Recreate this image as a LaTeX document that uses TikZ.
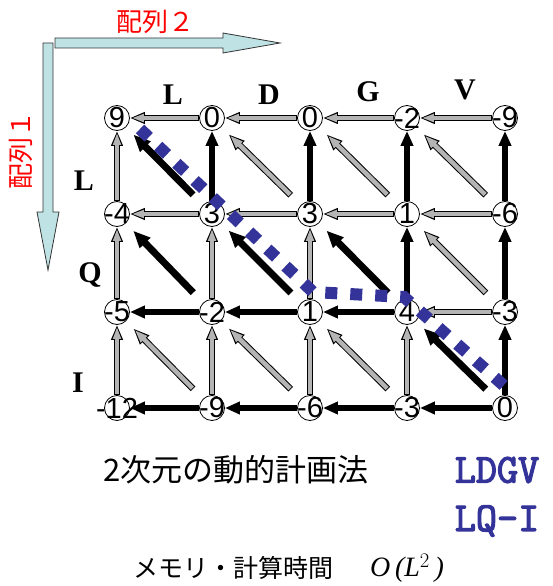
\documentclass[tikz,border=0pt]{standalone}
\usepackage{fontspec}
\setmainfont{Liberation Sans}
\newfontfamily\cjk{Noto Sans CJK JP}
\newfontfamily\serif{Liberation Serif}
\newfontfamily\cour{Latin Modern Mono}[FakeBold=3]
\usetikzlibrary{arrows.meta,backgrounds}
\definecolor{agray}{RGB}{180,180,180}
\definecolor{dblue}{RGB}{51,51,153}
\definecolor{lblue}{RGB}{191,226,229}
\tikzset{
  num/.style={circle, draw=black, fill=white, line width=0.8pt, minimum size=25pt, inner sep=0pt},
  numtext/.style={inner sep=0pt, font=\fontsize{29}{30}\selectfont},
  seq/.style={inner sep=0pt, font=\serif\bfseries\fontsize{30}{30}\selectfont},
  gout/.style={draw=black, line width=5.5pt, -{Triangle[length=15pt,width=11pt]}},
  gin/.style={draw=agray, line width=3.5pt, -{Triangle[length=12pt,width=7.5pt]}},
  bout/.style={draw=black, line width=5.5pt, -{Triangle[length=15pt,width=12pt]}},
  bdiag/.style={draw=black, line width=7pt, -{Triangle[length=17pt,width=14pt]}},
  gdout/.style={draw=black, line width=6.5pt, -{Triangle[length=16pt,width=12pt]}},
  gdin/.style={draw=agray, line width=4.5pt, -{Triangle[length=13pt,width=8.5pt]}},
  blockarrow/.style={fill=lblue, draw=black!80, line width=0.8pt},
  trace/.style={draw=dblue, line width=12pt, dash pattern=on 12pt off 13pt},
  jp/.style={inner sep=0pt, font=\cjk\fontsize{26}{28}\selectfont},
  seqtext/.style={inner sep=0pt, text=dblue, font=\cour\fontsize{41}{41}\selectfont},
}
% gray outlined arrow, straight
\newcommand\garr[2]{%
  \draw[gout] (#1) -- (#2);
  \draw[gin, shorten <=1pt, shorten >=2pt] (#1) -- (#2);}
% black arrow, straight
\newcommand\barr[2]{\draw[bout] (#1) -- (#2);}
% gray diagonal arrow
\newcommand\gdiag[2]{%
  \draw[gdout, shorten <=14pt, shorten >=10.5pt] (#1) -- (#2);
  \draw[gdin, shorten <=15pt, shorten >=12.5pt] (#1) -- (#2);}
% black diagonal arrow
\newcommand\bdiagarr[2]{\draw[bdiag, shorten <=14pt, shorten >=10.5pt] (#1) -- (#2);}
\begin{document}
\begin{tikzpicture}[x=1pt,y=-1pt]
\useasboundingbox (0,0) rectangle (553,586);

% axis block arrows
\path[blockarrow] (55,38) -- (223,38) -- (223,33) -- (280,43) -- (223,53) -- (223,48) -- (55,48) -- cycle;
\path[blockarrow] (43,43) -- (53,43) -- (53,212) -- (59,212) -- (48,270) -- (37,212) -- (43,212) -- cycle;
\node[jp, text=red] (arr2) at (155,22) {配列２};
\node[jp, text=red, rotate=90] (arr1) at (21,150) {配列１};

% grid nodes
\foreach \r/\y in {0/118,1/214,2/312,3/408}{
  \foreach \c/\x in {0/117,1/212,2/310,3/407,4/505}{
    \node[num] (n\r\c) at (\x,\y) {};
  }
}
\node[numtext] (t00) at (n00) {9};
\node[numtext] (t01) at (n01) {0};
\node[numtext] (t02) at (n02) {0};
\node[numtext] (t03) at (n03) {-2};
\node[numtext] (t04) at (n04) {-9};
\node[numtext] (t10) at (n10) {-4};
\node[numtext] (t11) at (n11) {3};
\node[numtext] (t12) at (n12) {3};
\node[numtext] (t13) at (n13) {1};
\node[numtext] (t14) at (n14) {-6};
\node[numtext] (t20) at (n20) {-5};
\node[numtext] (t21) at (n21) {-2};
\node[numtext] (t22) at (n22) {1};
\node[numtext] (t23) at (n23) {4};
\node[numtext] (t24) at (n24) {-3};
\node[numtext] (t30) at (n30) {-12};
\node[numtext] (t31) at (n31) {-9};
\node[numtext] (t32) at (n32) {-6};
\node[numtext] (t33) at (n33) {-3};
\node[numtext] (t34) at (n34) {0};

% sequence letters
\node[seq] (sL) at (173,95) {L};
\node[seq] (sD) at (269,95) {D};
\node[seq] (sG) at (368,92) {G};
\node[seq] (sV) at (465,90) {V};
\node[seq] (qL) at (84,181) {L};
\node[seq] (qQ) at (90,275) {Q};
\node[seq] (qI) at (78,383) {I};

\begin{pgfonlayer}{background}
% horizontal
\garr{n01}{n00} \garr{n02}{n01} \garr{n03}{n02} \garr{n04}{n03}
\garr{n11}{n10} \garr{n12}{n11} \garr{n13}{n12} \garr{n14}{n13}
\barr{n21}{n20} \barr{n22}{n21} \barr{n23}{n22} \garr{n24}{n23}
\barr{n31}{n30} \barr{n32}{n31} \barr{n33}{n32} \barr{n34}{n33}
% vertical
\garr{n10}{n00} \garr{n20}{n10} \garr{n30}{n20}
\barr{n11}{n01} \garr{n21}{n11} \garr{n31}{n21}
\barr{n12}{n02} \garr{n22}{n12} \garr{n32}{n22}
\barr{n13}{n03} \barr{n23}{n13} \garr{n33}{n23}
\barr{n14}{n04} \barr{n24}{n14} \barr{n34}{n24}
% diagonal
\bdiagarr{n11}{n00} \gdiag{n12}{n01} \gdiag{n13}{n02} \gdiag{n14}{n03}
\bdiagarr{n21}{n10} \bdiagarr{n22}{n11} \bdiagarr{n23}{n12} \gdiag{n24}{n13}
\gdiag{n31}{n20} \gdiag{n32}{n21} \gdiag{n33}{n22} \bdiagarr{n34}{n23}
\end{pgfonlayer}

% traceback path
\coordinate (p0) at (140,129);
\coordinate (p1) at (313,292);
\coordinate (p2) at (404,297);
\coordinate (p3) at (510,391);
\draw[trace] (p0) -- (p1) -- (p2) -- (p3);

% bottom texts
\node[jp, anchor=west, font=\cjk\fontsize{31}{32}\selectfont] (title) at (103,470) {2次元の動的計画法};
\node[seqtext] (s1) at (497,470) {LDGV};
\node[seqtext] (s2) at (497,521) {LQ-I};
\node[jp, anchor=west, font=\cjk\fontsize{25}{28}\selectfont] (memo) at (133,568) {メモリ・計算時間};
\node[inner sep=0pt, anchor=west, font=\serif\itshape\fontsize{28}{30}\selectfont] (order) at (370,568) {O\,(L$^{2}$\,)};
\end{tikzpicture}
\end{document}
